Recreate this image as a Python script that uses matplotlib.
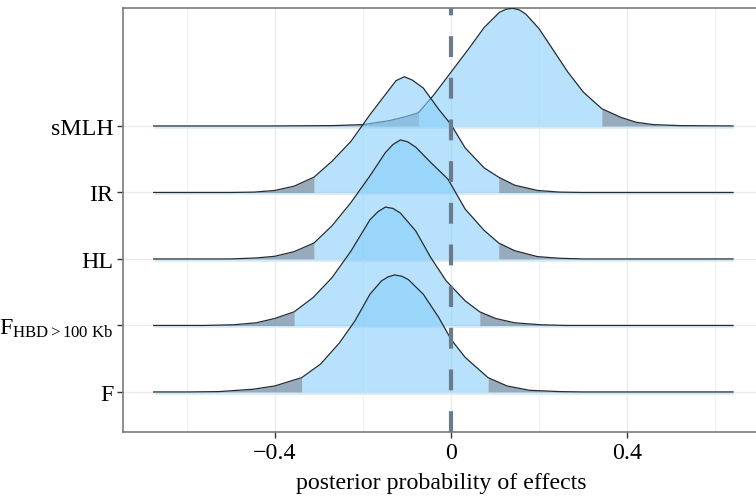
import matplotlib
matplotlib.use('Agg')
import matplotlib.pyplot as plt

plt.rcParams['font.family'] = ['Liberation Serif', 'DejaVu Serif']
plt.rcParams['mathtext.fontset'] = 'custom'
plt.rcParams['mathtext.rm'] = 'Liberation Serif'
plt.rcParams['mathtext.it'] = 'Liberation Serif:italic'

# 行标签（从下到上）
labels = ['F', r'$\mathrm{F}_{\mathrm{HBD{>}100\ Kb}}$', 'HL', 'IR', 'sMLH']

# 每条密度曲线：x 位置与高度（单位：行间距），读自原图
f_x = [-0.675, -0.60, -0.528, -0.45, -0.40, -0.339, -0.296, -0.253, -0.218, -0.184, -0.158, -0.143,
       -0.128, -0.112, -0.097, -0.063, -0.028, 0.0, 0.032, 0.084, 0.127, 0.178, 0.247, 0.30, 0.64]
f_h = [0, 0, 0.005, 0.04, 0.09, 0.215, 0.42, 0.74, 1.07, 1.47, 1.67, 1.73,
       1.76, 1.74, 1.69, 1.47, 1.12, 0.79, 0.52, 0.215, 0.09, 0.025, 0.005, 0, 0]

fhbd_x = [-0.675, -0.56, -0.494, -0.442, -0.40, -0.356, -0.313, -0.27, -0.227, -0.184, -0.166, -0.149,
          -0.132, -0.115, -0.08, -0.046, -0.011, 0.032, 0.065, 0.101, 0.144, 0.204, 0.26, 0.64]
fhbd_h = [0, 0, 0.01, 0.04, 0.105, 0.205, 0.42, 0.72, 1.12, 1.59, 1.71, 1.78,
          1.76, 1.69, 1.42, 1.02, 0.67, 0.37, 0.205, 0.105, 0.04, 0.01, 0, 0]

hl_x = [-0.675, -0.50, -0.442, -0.40, -0.356, -0.311, -0.27, -0.227, -0.184, -0.149, -0.132, -0.115,
        -0.098, -0.08, -0.046, -0.007, 0.032, 0.075, 0.108, 0.144, 0.196, 0.247, 0.30, 0.64]
hl_h = [0, 0, 0.015, 0.04, 0.11, 0.24, 0.5, 0.85, 1.25, 1.6, 1.72, 1.79,
        1.76, 1.68, 1.45, 1.2, 0.75, 0.43, 0.24, 0.125, 0.035, 0.01, 0, 0]

ir_x = [-0.675, -0.50, -0.447, -0.40, -0.356, -0.311, -0.27, -0.227, -0.184, -0.14, -0.125, -0.106,
        -0.088, -0.063, -0.028, 0.0, 0.032, 0.075, 0.108, 0.144, 0.196, 0.247, 0.30, 0.64]
ir_h = [0, 0, 0.005, 0.03, 0.095, 0.23, 0.47, 0.77, 1.17, 1.55, 1.68, 1.74,
        1.69, 1.57, 1.25, 1.02, 0.67, 0.37, 0.23, 0.11, 0.03, 0.005, 0, 0]

smlh_x = [-0.675, -0.40, -0.27, -0.20, -0.14, -0.10, -0.074, -0.04, 0.0, 0.04, 0.075, 0.11, 0.125,
          0.14, 0.155, 0.17, 0.20, 0.23, 0.265, 0.30, 0.342, 0.385, 0.42, 0.46, 0.52, 0.64]
smlh_h = [0, 0, 0.005, 0.02, 0.08, 0.145, 0.2, 0.46, 0.81, 1.16, 1.48, 1.71, 1.755,
          1.77, 1.745, 1.68, 1.46, 1.16, 0.81, 0.51, 0.26, 0.13, 0.055, 0.02, 0.005, 0]

# 95% 区间边界
lo = [-0.339, -0.356, -0.311, -0.311, -0.074]
hi = [0.084, 0.065, 0.108, 0.108, 0.342]

curves = [(f_x, f_h), (fhbd_x, fhbd_h), (hl_x, hl_h), (ir_x, ir_h), (smlh_x, smlh_h)]

fig = plt.figure(figsize=(7.56, 5.02), dpi=100)
ax = fig.add_axes([0.1627, 0.1375, 0.8373, 0.8446])

# 从上往下画，下面的行盖在上面
for i in range(len(curves) - 1, -1, -1):
    xs, hs = curves[i]
    base = i + 1
    top = [base + h for h in hs]
    z = 10 + (len(curves) - i) * 3
    mid = [lo[i] <= x <= hi[i] for x in xs]
    left = [x <= lo[i] for x in xs]
    right = [x >= hi[i] for x in xs]
    ax.plot(xs, [base - 0.012] * len(xs), color='#cfe9fa', lw=1.8, zorder=z - 1, solid_capstyle='butt')
    ax.fill_between(xs, base, top, where=mid, color='#87cefa', alpha=0.6, lw=0, zorder=z)
    ax.fill_between(xs, base, top, where=left, color='#5f7f99', alpha=0.65, lw=0, zorder=z)
    ax.fill_between(xs, base, top, where=right, color='#5f7f99', alpha=0.65, lw=0, zorder=z)
    ax.plot(xs, top, color='#2b2b2b', lw=0.9, zorder=z + 1)

ax.axvline(0, color='#6a7b8c', lw=3, dashes=(5, 5), zorder=40)

ax.set_xlim(-0.7445, 0.692)
ax.set_ylim(0.398, 6.774)
ax.set_xticks([-0.4, 0, 0.4])
ax.set_xticklabels(['\u22120.4', '0', '0.4'])
ax.set_xticks([-0.6, -0.2, 0.2, 0.6], minor=True)
ax.set_yticks([1, 2, 3, 4, 5])
ax.set_yticklabels(labels)

ax.grid(True, which='major', color='#ebebeb', lw=1.0, zorder=0)
ax.grid(True, which='minor', axis='x', color='#f2f2f2', lw=0.8, zorder=0)
ax.set_axisbelow(True)
ax.tick_params(which='minor', length=0)
ax.tick_params(which='major', length=4, width=1, color='#333333', labelsize=17.2, pad=3)

for s in ['left', 'bottom', 'top']:
    ax.spines[s].set_color('#7a7a7a')
    ax.spines[s].set_linewidth(1.2)
ax.spines['right'].set_visible(False)

ax.set_xlabel('posterior probability of effects', fontsize=17.2, va='center')
ax.xaxis.set_label_coords(0.503, -0.12)

plt.savefig('out.png', dpi=100)
